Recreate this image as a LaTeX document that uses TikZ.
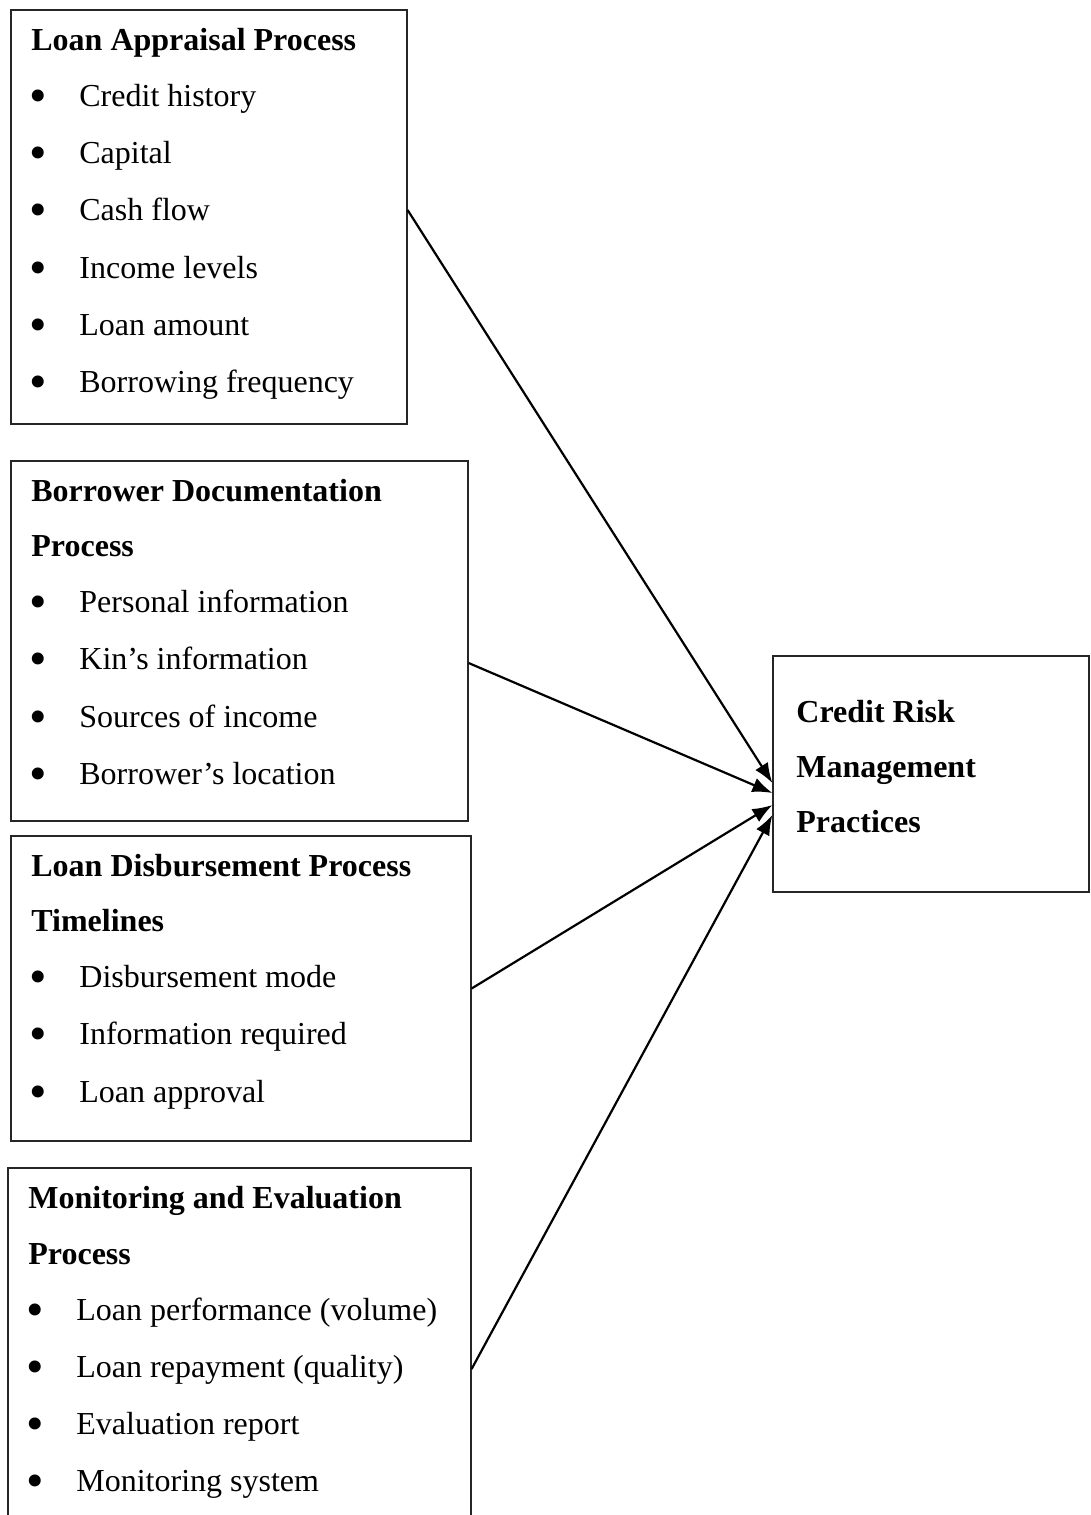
\documentclass[tikz,border=0pt]{standalone}
\usepackage{fontspec}
\setmainfont{Liberation Serif}
\usetikzlibrary{arrows.meta}

\tikzset{
  box/.style={draw=black!85, line width=0.6pt, inner sep=0pt},
  head/.style={anchor=base west, inner sep=0pt, font=\fontsize{16}{20}\selectfont\bfseries},
  item/.style={anchor=base west, inner sep=0pt, font=\fontsize{16}{20}\selectfont},
  dot/.style={anchor=center, yshift=2.2pt, inner sep=0pt, font=\fontsize{25}{25}\selectfont},
  link/.style={-{Latex[length=10pt,width=7.5pt]}, line width=1.1pt}
}

\begin{document}
\begin{tikzpicture}[x=0.5pt, y=-0.5pt]
\useasboundingbox (0,0) rectangle (1091,1515);
\clip (0,0) rectangle (1091,1515);
%
\node[box, minimum width=198pt, minimum height=207pt](lap) at (209,217) {};
\node[head](laph) at (31,50) {Loan Appraisal Process};
\node[dot](d11) at (38,106) {\textbullet};
\node[item](lap1) at (79,106) {Credit history};
\node[dot](d12) at (38,163) {\textbullet};
\node[item](lap2) at (79,163) {Capital};
\node[dot](d13) at (38,220) {\textbullet};
\node[item](lap3) at (79,220) {Cash flow};
\node[dot](d14) at (38,278) {\textbullet};
\node[item](lap4) at (79,278) {Income levels};
\node[dot](d15) at (38,335) {\textbullet};
\node[item](lap5) at (79,335) {Loan amount};
\node[dot](d16) at (38,392) {\textbullet};
\node[item](lap6) at (79,392) {Borrowing frequency};
%
\node[box, minimum width=228.5pt, minimum height=180pt](bdp) at (239.5,641) {};
\node[head](bdph1) at (31,501) {Borrower Documentation};
\node[head](bdph2) at (31,556) {Process};
\node[dot](d21) at (38,612) {\textbullet};
\node[item](bdp1) at (79,612) {Personal information};
\node[dot](d22) at (38,669) {\textbullet};
\node[item](bdp2) at (79,669) {Kin’s information};
\node[dot](d23) at (38,727) {\textbullet};
\node[item](bdp3) at (79,727) {Sources of income};
\node[dot](d24) at (38,784) {\textbullet};
\node[item](bdp4) at (79,784) {Borrower’s location};
%
\node[box, minimum width=230pt, minimum height=152.5pt](ldp) at (241,988.5) {};
\node[head](ldph1) at (31,876) {Loan Disbursement Process};
\node[head](ldph2) at (31,931) {Timelines};
\node[dot](d31) at (38,987) {\textbullet};
\node[item](ldp1) at (79,987) {Disbursement mode};
\node[dot](d32) at (38,1044) {\textbullet};
\node[item](ldp2) at (79,1044) {Information required};
\node[dot](d33) at (38,1102) {\textbullet};
\node[item](ldp3) at (79,1102) {Loan approval};
%
\node[box, minimum width=231.5pt, minimum height=181pt](mep) at (239.5,1349) {};
\node[head](meph1) at (28,1208) {Monitoring and Evaluation};
\node[head](meph2) at (28,1264) {Process};
\node[dot](d41) at (35,1320) {\textbullet};
\node[item](mep1) at (76,1320) {Loan performance (volume)};
\node[dot](d42) at (35,1377) {\textbullet};
\node[item](mep2) at (76,1377) {Loan repayment (quality)};
\node[dot](d43) at (35,1434) {\textbullet};
\node[item](mep3) at (76,1434) {Evaluation report};
\node[dot](d44) at (35,1491) {\textbullet};
\node[item](mep4) at (76,1491) {Monitoring system};
%
\node[box, minimum width=158pt, minimum height=118pt](crmp) at (931,774) {};
\node[head](crmp1) at (796,722) {Credit Risk};
\node[head](crmp2) at (796,777) {Management};
\node[head](crmp3) at (796,832) {Practices};
%
\draw[link]([yshift=3.5pt]lap.east) -- ([yshift=-4.5pt]crmp.west);
\draw[link]([yshift=-11pt]bdp.east) -- ([yshift=-9.5pt]crmp.west);
\draw[link](ldp.east) -- ([yshift=-15.5pt]crmp.west);
\draw[link]([yshift=-10pt]mep.east) -- ([yshift=-20.5pt]crmp.west);
\end{tikzpicture}
\end{document}
